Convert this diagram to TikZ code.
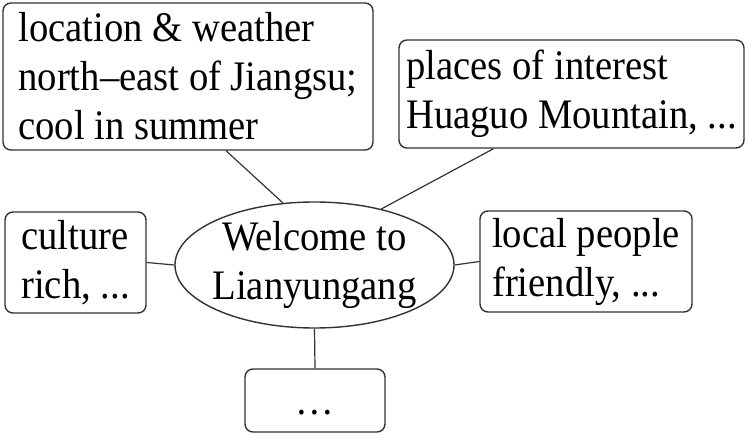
\documentclass[tikz,border=0pt]{standalone}
\usepackage{fontspec}
\setmainfont[FakeStretch=0.92]{Liberation Serif}
\usetikzlibrary{shapes.geometric}

\begin{document}
\begin{tikzpicture}[
    x=0.5pt,y=-0.5pt,
    font=\fontsize{21}{24.5}\selectfont,
    box/.style={draw=black!80,line width=0.7pt,rounded corners=4pt,
                inner sep=0pt,align=left},
    hub/.style={ellipse,draw=black!80,line width=0.7pt,inner xsep=-3pt,
                inner ysep=0pt,align=center,minimum width=139.5pt,
                minimum height=63pt},
    link/.style={black!80,line width=0.6pt}]

  \useasboundingbox (0,0) rectangle (748,437);

  % centre of the map
  \node[hub] (wel) at (314.5,265) {Welcome to\\Lianyungang};

  % topics round it
  \node[box,minimum width=185pt,minimum height=73.5pt] (loc) at (188,76.5)
       {location \& weather\\north--east of Jiangsu;\\cool in summer};
  \node[box,minimum width=172.5pt,minimum height=54pt] (sight) at (571.5,94)
       {places of interest\\Huaguo Mountain, ...};
  \node[box,minimum width=70.5pt,minimum height=50.5pt] (cult)
       at (75.5,262.5) {culture\\rich, ...};
  \node[box,minimum width=106pt,minimum height=50.5pt] (folk)
       at (586,261.5) {local people\\friendly, ...};
  \node[box,minimum width=70pt,minimum height=31.5pt] (more)
       at (315,400.5) {\rule[-6pt]{0pt}{26pt}\dots};

  \draw[link] ([xshift=19pt]loc.south) -- (wel.117);
  \draw[link] ([xshift=-39pt]sight.south) -- (wel.40);
  \draw[link] (cult.east) -- (wel.west);
  \draw[link] (wel.east) -- (folk.west);
  \draw[link] (wel.south) -- (more.north);
\end{tikzpicture}
\end{document}
